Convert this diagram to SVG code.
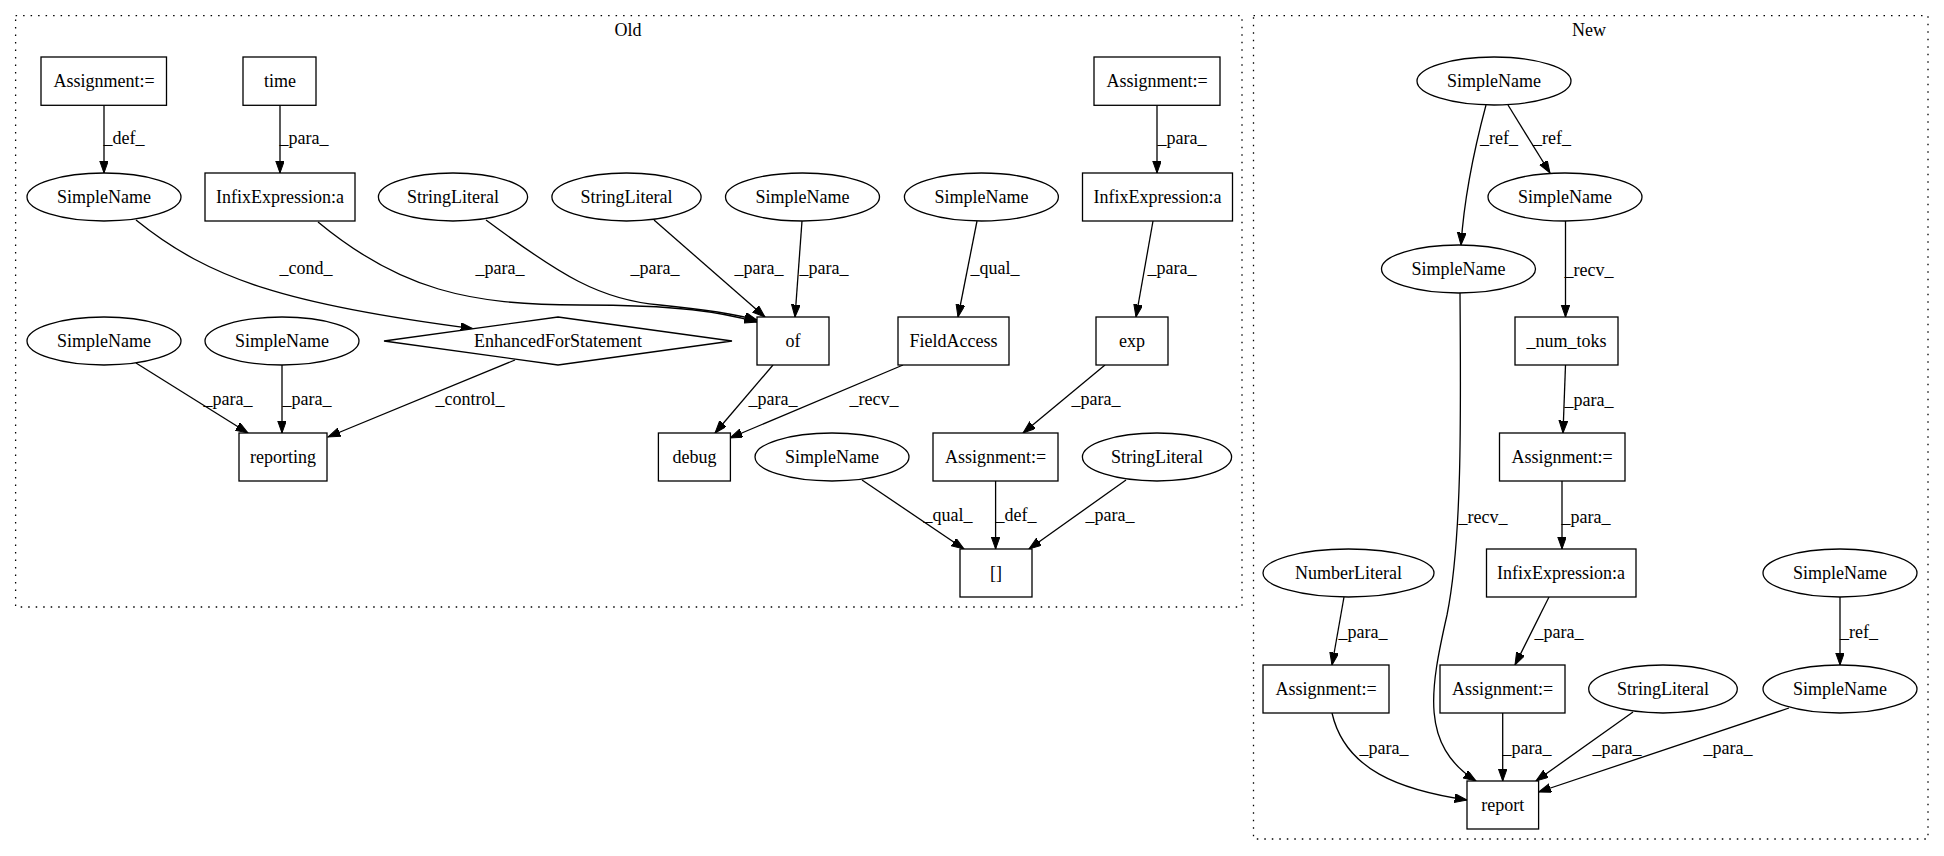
<svg xmlns="http://www.w3.org/2000/svg" width="1944" height="856" viewBox="0 0 1944 856" font-family="'Liberation Serif', 'Times New Roman', Times, serif">
<style>
text{font-family:'Liberation Serif','Times New Roman',Times,serif;font-size:18px;fill:#000;text-anchor:middle}
.n{fill:#fff;stroke:#000;stroke-width:1.3}
.c{fill:none;stroke:#000;stroke-width:1.3;stroke-dasharray:1.5,6}
.e{fill:none;stroke:#000;stroke-width:1.3;marker-end:url(#a)}
</style>
<defs>
<marker id="a" markerUnits="userSpaceOnUse" markerWidth="14" markerHeight="10" refX="12.4" refY="4.4" orient="auto">
<path d="M0,0 L12.4,4.4 L0,8.8 z" fill="#000" stroke="#000" stroke-width="1"/>
</marker>
</defs>
<rect width="1944" height="856" fill="#fff"/>
<g id="cluster_old">
<rect class="c" x="15.6" y="15.7" width="1226.4" height="591.3"/>
<text x="628" y="36">Old</text>
</g>
<g id="cluster_new">
<rect class="c" x="1253.5" y="15.7" width="674.5" height="823.3"/>
<text x="1589" y="36">New</text>
</g>
<g id="connectors">
<path class="e" d="M104,105.3 L104,173"/>
<text x="124" y="144">_def_</text>
<path class="e" d="M280,105.3 L280,173"/>
<text x="304" y="144">_para_</text>
<path class="e" d="M136,220 C210,280 290,305 473,328.7"/>
<text x="306" y="274">_cond_</text>
<path class="e" d="M318,222 C400,290 470,305 580,305 C680,305 720,312 757,322"/>
<text x="500" y="274">_para_</text>
<path class="e" d="M486,220 C560,275 600,300 660,305 C710,310 735,314 757,320"/>
<text x="655" y="274">_para_</text>
<path class="e" d="M654,220 L765,317"/>
<text x="759" y="274">_para_</text>
<path class="e" d="M802,221 L795,317"/>
<text x="824" y="274">_para_</text>
<path class="e" d="M977,221 L958,317"/>
<text x="995" y="274">_qual_</text>
<path class="e" d="M1157,105.3 L1157,173"/>
<text x="1182" y="144">_para_</text>
<path class="e" d="M1153,221 L1136,317"/>
<text x="1172" y="274">_para_</text>
<path class="e" d="M773,365 L715,433"/>
<text x="773" y="405">_para_</text>
<path class="e" d="M903,365 L730,438"/>
<text x="874" y="405">_recv_</text>
<path class="e" d="M1105,365 L1023,433"/>
<text x="1096" y="405">_para_</text>
<path class="e" d="M862,480 L964,549"/>
<text x="948" y="521">_qual_</text>
<path class="e" d="M995.6,481 L995.6,549"/>
<text x="1016" y="521">_def_</text>
<path class="e" d="M1126,480 L1029,549"/>
<text x="1110" y="521">_para_</text>
<path class="e" d="M136,363 L248,433"/>
<text x="228" y="405">_para_</text>
<path class="e" d="M282,365 L282,433"/>
<text x="307" y="405">_para_</text>
<path class="e" d="M515,360 L328,437"/>
<text x="470" y="405">_control_</text>
<path class="e" d="M1486,105 C1474,150 1464,200 1461,245"/>
<text x="1499" y="144">_ref_</text>
<path class="e" d="M1508,105 L1550,173"/>
<text x="1552" y="144">_ref_</text>
<path class="e" d="M1565.5,221 L1565.5,317"/>
<text x="1589" y="276">_recv_</text>
<path class="e" d="M1565.5,365 L1563,433"/>
<text x="1589" y="406">_para_</text>
<path class="e" d="M1562,481 L1562,549"/>
<text x="1586" y="523">_para_</text>
<path class="e" d="M1460,293 C1461,420 1462,540 1447,615 C1430,690 1420,745 1476,781"/>
<text x="1483" y="523">_recv_</text>
<path class="e" d="M1344,597 L1332,665"/>
<text x="1363" y="638">_para_</text>
<path class="e" d="M1549,597 L1515,665"/>
<text x="1559" y="638">_para_</text>
<path class="e" d="M1840,597 L1840,665"/>
<text x="1859" y="638">_ref_</text>
<path class="e" d="M1332,713 C1345,770 1400,790 1467,800"/>
<text x="1384" y="754">_para_</text>
<path class="e" d="M1502.7,713 L1502.7,781"/>
<text x="1527" y="754">_para_</text>
<path class="e" d="M1633,712 L1536,781"/>
<text x="1617" y="754">_para_</text>
<path class="e" d="M1789,708 L1538.6,792"/>
<text x="1728" y="754">_para_</text>
</g>
<g id="old_assign1"><rect class="n" x="41" y="57" width="125.5" height="48.3"/><text x="104" y="87">Assignment:=</text></g>
<g id="old_time"><rect class="n" x="243" y="57" width="73" height="48.3"/><text x="280" y="87">time</text></g>
<g id="old_sn1"><ellipse class="n" cx="104" cy="197" rx="77" ry="24"/><text x="104" y="203">SimpleName</text></g>
<g id="old_infix1"><rect class="n" x="205" y="173" width="150" height="48"/><text x="280" y="203">InfixExpression:a</text></g>
<g id="old_sl1"><ellipse class="n" cx="453" cy="197" rx="74.6" ry="24"/><text x="453" y="203">StringLiteral</text></g>
<g id="old_sl2"><ellipse class="n" cx="626.5" cy="197" rx="74.6" ry="24"/><text x="626.5" y="203">StringLiteral</text></g>
<g id="old_sn2"><ellipse class="n" cx="802.5" cy="197" rx="77" ry="24"/><text x="802.5" y="203">SimpleName</text></g>
<g id="old_sn3"><ellipse class="n" cx="981.4" cy="197" rx="77" ry="24"/><text x="981.4" y="203">SimpleName</text></g>
<g id="old_assign2"><rect class="n" x="1094" y="57" width="126" height="48.3"/><text x="1157" y="87">Assignment:=</text></g>
<g id="old_infix2"><rect class="n" x="1082.5" y="173" width="150" height="48"/><text x="1157.5" y="203">InfixExpression:a</text></g>
<g id="old_sn4"><ellipse class="n" cx="104" cy="341" rx="77" ry="24"/><text x="104" y="347">SimpleName</text></g>
<g id="old_sn5"><ellipse class="n" cx="282" cy="341" rx="77" ry="24"/><text x="282" y="347">SimpleName</text></g>
<g id="old_for"><polygon class="n" points="558,317 732,341 558,365 384,341"/><text x="558" y="347">EnhancedForStatement</text></g>
<g id="old_of"><rect class="n" x="757" y="317" width="72" height="48"/><text x="793" y="347">of</text></g>
<g id="old_field"><rect class="n" x="898" y="317" width="111" height="48"/><text x="953.5" y="347">FieldAccess</text></g>
<g id="old_exp"><rect class="n" x="1096" y="317" width="72" height="48"/><text x="1132" y="347">exp</text></g>
<g id="old_reporting"><rect class="n" x="239" y="433" width="88" height="48"/><text x="283" y="463">reporting</text></g>
<g id="old_debug"><rect class="n" x="658.4" y="433" width="72" height="48"/><text x="694.4" y="463">debug</text></g>
<g id="old_sn6"><ellipse class="n" cx="832" cy="457" rx="77" ry="24"/><text x="832" y="463">SimpleName</text></g>
<g id="old_assign3"><rect class="n" x="933" y="433" width="125" height="48"/><text x="995.5" y="463">Assignment:=</text></g>
<g id="old_sl3"><ellipse class="n" cx="1157" cy="457" rx="74.6" ry="24"/><text x="1157" y="463">StringLiteral</text></g>
<g id="old_index"><rect class="n" x="960" y="549" width="72" height="48"/><text x="996" y="579">[]</text></g>
<g id="new_sn1"><ellipse class="n" cx="1494" cy="81" rx="77" ry="24"/><text x="1494" y="87">SimpleName</text></g>
<g id="new_sn2"><ellipse class="n" cx="1565" cy="197" rx="77" ry="24"/><text x="1565" y="203">SimpleName</text></g>
<g id="new_sn3"><ellipse class="n" cx="1458.5" cy="269" rx="77" ry="24"/><text x="1458.5" y="275">SimpleName</text></g>
<g id="new_numtoks"><rect class="n" x="1515" y="317" width="103" height="48"/><text x="1566.5" y="347">_num_toks</text></g>
<g id="new_assign1"><rect class="n" x="1499.5" y="433" width="125.5" height="48"/><text x="1562" y="463">Assignment:=</text></g>
<g id="new_infix"><rect class="n" x="1486.5" y="549" width="149.5" height="48"/><text x="1561" y="579">InfixExpression:a</text></g>
<g id="new_num"><ellipse class="n" cx="1348.5" cy="573" rx="85.5" ry="24"/><text x="1348.5" y="579">NumberLiteral</text></g>
<g id="new_sn4"><ellipse class="n" cx="1840" cy="573" rx="77" ry="24"/><text x="1840" y="579">SimpleName</text></g>
<g id="new_assign2"><rect class="n" x="1263" y="665" width="126" height="48"/><text x="1326" y="695">Assignment:=</text></g>
<g id="new_assign3"><rect class="n" x="1440" y="665" width="125" height="48"/><text x="1502.5" y="695">Assignment:=</text></g>
<g id="new_sl"><ellipse class="n" cx="1663" cy="689" rx="74.3" ry="24"/><text x="1663" y="695">StringLiteral</text></g>
<g id="new_sn5"><ellipse class="n" cx="1840" cy="689" rx="77" ry="24"/><text x="1840" y="695">SimpleName</text></g>
<g id="new_report"><rect class="n" x="1467" y="781" width="71.6" height="48"/><text x="1502.8" y="811">report</text></g>
</svg>
